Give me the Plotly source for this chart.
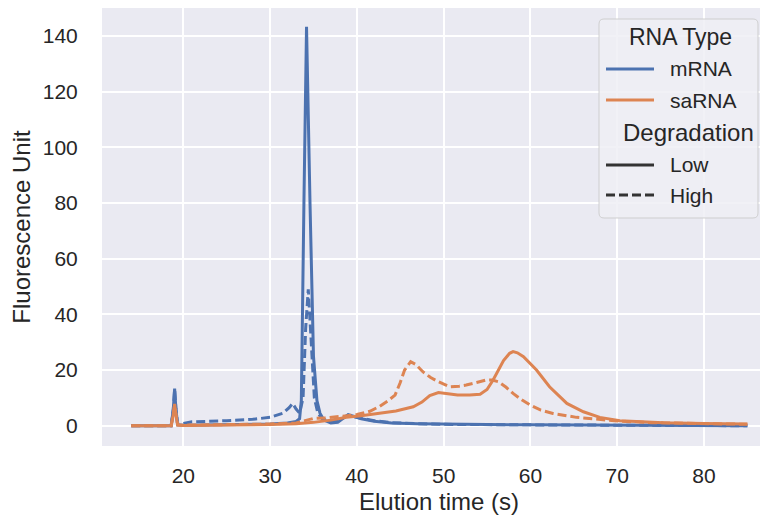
import plotly.graph_objects as go

# ---------------- data ----------------
mrna_low_x = [14, 18.6, 18.85, 19.0, 19.15, 19.35, 20, 25, 30, 32, 33.0, 33.4, 33.6, 33.9, 34.2,
              34.6, 35.0, 35.4, 35.75, 36.2, 37, 37.8, 38.5, 39.0, 39.5, 40.5, 42, 44, 47, 50,
              55, 60, 70, 80, 85]
mrna_low_y = [0, 0, 6, 13.3, 6, 0.3, 0.2, 0.3, 0.6, 1.0, 1.5, 2.5, 9, 80, 143.3,
              80, 25, 9, 4.5, 2.0, 1.0, 1.2, 2.8, 4.0, 3.5, 2.5, 1.6, 1.0, 0.7, 0.5,
              0.4, 0.3, 0.2, 0.1, 0.0]

mrna_high_x = [14, 18.6, 18.85, 19.0, 19.15, 19.35, 20, 21, 25, 28, 30, 31.5, 32.2, 32.6, 33.0,
               33.4, 33.8, 34.1, 34.4, 34.7, 35.1, 35.5, 36, 37, 38, 39, 40, 42, 44, 47,
               50, 60, 70, 85]
mrna_high_y = [0, 0, 6, 13, 6, 0.5, 0.8, 1.4, 1.8, 2.3, 3.0, 4.5, 6.5, 8.0, 6.0,
               4.5, 10, 35, 49, 30, 10, 4.5, 2.5, 1.5, 2.0, 3.8, 3.0, 1.8, 1.1, 0.7,
               0.5, 0.3, 0.2, 0.0]

sarna_low_x = [14, 18.6, 18.85, 19.0, 19.15, 19.35, 20, 25, 30, 33, 35, 37, 38.8, 40.5, 42.6,
               44.5, 46.5, 47.5, 48.4, 49.4, 50.5, 51.6, 53, 54.2, 55.0, 55.7, 56.9, 57.6, 58.0,
               58.5, 59.2, 60.7, 62.2, 64.2, 66.1, 68.0, 70.3, 75.3, 80, 85]
sarna_low_y = [0, 0, 4, 7.8, 4, 0.2, 0.1, 0.2, 0.4, 0.7, 1.2, 2.0, 3.0, 3.6, 4.4,
               5.3, 6.8, 8.5, 10.8, 11.9, 11.5, 11.0, 11.0, 11.3, 13, 16.4, 23.4, 26.0, 26.6,
               26.2, 24.8, 20, 14, 8, 5, 3, 1.8, 1.1, 0.8, 0.6]

sarna_high_x = [14, 18.6, 18.85, 19.0, 19.15, 19.35, 20, 25, 30, 33, 34.2, 35, 36.5, 38, 40,
                41.5, 42.65, 43.6, 44.4, 45.0, 45.5, 46.2, 46.8, 47.6, 48.5, 49.4, 50.7, 51.8,
                52.6, 53.8, 54.9, 55.6, 56.3, 57.2, 58.0, 59.0, 60, 61.2, 62.6, 65.3, 67.6, 70,
                74, 80, 85]
sarna_high_y = [0, 0, 4, 7.5, 4, 0.3, 0.2, 0.3, 0.6, 1.0, 1.8, 2.6, 2.8, 3.2, 4.0,
                5.2, 7.0, 9.0, 11.0, 15.5, 20, 23, 22, 19.4, 17.3, 15.8, 14.0, 14.2,
                14.6, 15.5, 16.4, 16.4, 15.8, 13.8, 11.6, 9.3, 7.4, 5.6, 4.4, 3.0, 2.3, 1.7,
                1.1, 0.7, 0.5]

x_ticks = [20, 30, 40, 50, 60, 70, 80]
y_ticks = [0, 20, 40, 60, 80, 100, 120, 140]

hue_names = ["mRNA", "saRNA"]
style_names = ["Low", "High"]

# ---------------- styling ----------------
BLUE = "#4C72B0"
ORANGE = "#DD8452"
TXT = "#262626"
FONT = "Liberation Sans, Arial, Helvetica, sans-serif"
LW = 3.0
DASH = "9px,4px"

# the page has an 8px body margin, so the figure is offset by (8, 8)
OFF = 8
W, H = 768, 518
L, R, T, B = 94, 0, 0, 80
PW, PH = W - L - R, H - T - B
PAGE_L, PAGE_T = L + OFF, T + OFF


def px2paper(px, py):
    return (px - PAGE_L) / PW, (PAGE_T + PH - py) / PH


fig = go.Figure()
series = [
    (mrna_low_x, mrna_low_y, BLUE, "solid"),
    (mrna_high_x, mrna_high_y, BLUE, DASH),
    (sarna_low_x, sarna_low_y, ORANGE, "solid"),
    (sarna_high_x, sarna_high_y, ORANGE, DASH),
]
for xs, ys, col, dash in series:
    fig.add_trace(go.Scatter(x=xs, y=ys, mode="lines", showlegend=False,
                             line=dict(color=col, width=LW, dash=dash)))

# ---------------- manual legend (box, samples, text) ----------------
shapes = []
annotations = []

bx0, by0, bx1, by1, rad = 599, 19, 758, 218, 5
def P(px, py):
    a, b = px2paper(px, py)
    return f"{a:.5f},{b:.5f}"
path = (f"M {P(bx0 + rad, by0)} L {P(bx1 - rad, by0)} Q {P(bx1, by0)} {P(bx1, by0 + rad)} "
        f"L {P(bx1, by1 - rad)} Q {P(bx1, by1)} {P(bx1 - rad, by1)} "
        f"L {P(bx0 + rad, by1)} Q {P(bx0, by1)} {P(bx0, by1 - rad)} "
        f"L {P(bx0, by0 + rad)} Q {P(bx0, by0)} {P(bx0 + rad, by0)} Z")
shapes.append(dict(type="path", xref="paper", yref="paper", path=path,
                   fillcolor="rgba(238,238,245,0.85)",
                   line=dict(color="rgba(204,204,204,0.9)", width=1), layer="above"))

def sample(py, color, dash):
    x0, y0 = px2paper(606, py)
    x1, _ = px2paper(654, py)
    shapes.append(dict(type="line", xref="paper", yref="paper", x0=x0, x1=x1, y0=y0, y1=y0,
                       line=dict(color=color, width=LW, dash=dash), layer="above"))

def text(px, py, s, size, anchor="left"):
    a, b = px2paper(px, py)
    annotations.append(dict(xref="paper", yref="paper", x=a, y=b, text=s, showarrow=False,
                            xanchor=anchor, yanchor="middle",
                            font=dict(family=FONT, size=size, color=TXT)))

text(680, 37, "RNA Type", 23, "center")
sample(69, BLUE, "solid")
text(668, 69, hue_names[0], 21)
sample(100, ORANGE, "solid")
text(668, 100, hue_names[1], 21)
text(688, 133, "Degradation", 24, "center")
sample(165, "#333333", "solid")
text(668, 165, style_names[0], 21)
sample(195, "#333333", DASH)
text(668, 195, style_names[1], 21)

fig.update_layout(
    width=W, height=H,
    margin=dict(l=L, r=R, t=T, b=B, pad=0, autoexpand=False),
    paper_bgcolor="white",
    plot_bgcolor="#EAEAF2",
    font=dict(family=FONT, color=TXT, size=21),
    shapes=shapes,
    annotations=annotations,
    showlegend=False,
)
fig.update_xaxes(
    range=[10.632, 88.297], tickvals=x_ticks, ticktext=[str(v) for v in x_ticks],
    showgrid=True, gridcolor="white", gridwidth=1.8, zeroline=False, showline=False,
    automargin=False,
    ticks="", ticklabelstandoff=15, tickfont=dict(size=21, color=TXT),
    title=dict(text="Elution time (s)", font=dict(size=24, color=TXT), standoff=7),
)
fig.update_yaxes(
    range=[-7.29, 150.06], tickvals=y_ticks, ticktext=[str(v) for v in y_ticks],
    showgrid=True, gridcolor="white", gridwidth=1.8, zeroline=False, showline=False,
    automargin=False,
    ticks="outside", ticklen=19, tickcolor="rgba(0,0,0,0)", tickwidth=1,
    tickfont=dict(size=21, color=TXT),
    title=dict(text="Fluorescence Unit", font=dict(size=24, color=TXT), standoff=11),
)

fig.write_html("out.html")
